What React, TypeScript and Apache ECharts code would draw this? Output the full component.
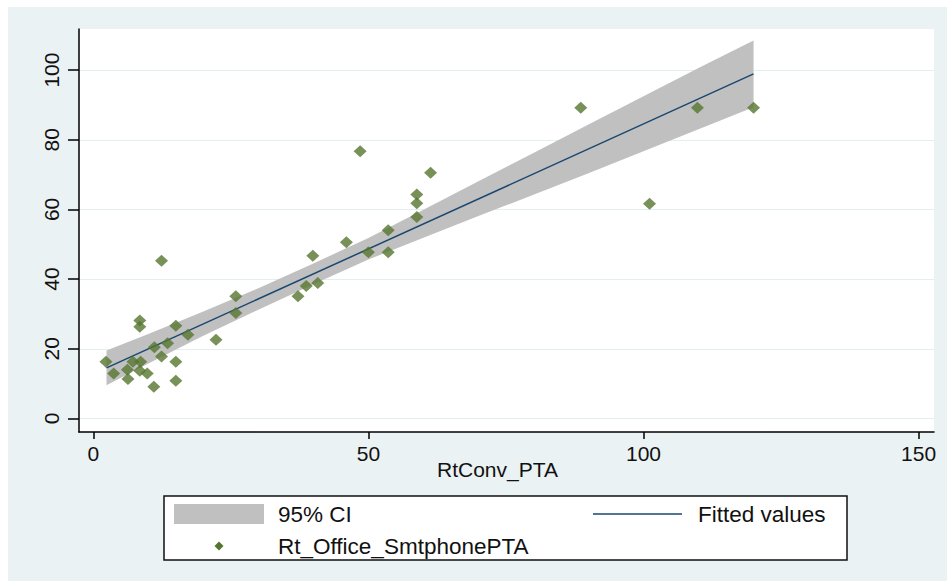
import React, { useEffect, useRef } from "react";
import * as echarts from "echarts";

const xTicks = [0, 50, 100, 150];
const yTicks = [0, 20, 40, 60, 80, 100];

const scatterX = [2.3, 3.7, 6.2, 6.3, 7.2, 8.6, 8.45, 9.8, 11.0, 11.1, 12.4, 13.5, 15.0, 15.0, 15.0, 17.2, 8.45, 8.45, 12.4, 22.3, 25.9, 25.9, 37.2, 38.7, 40.8, 39.9, 46.0, 48.5, 50.0, 53.6, 53.6, 58.8, 58.8, 58.8, 61.3, 88.6, 101.1, 109.8, 120.0];
const scatterY = [16.3, 12.9, 14.0, 11.3, 16.3, 16.3, 13.7, 12.9, 9.1, 20.4, 17.8, 21.6, 26.6, 16.3, 10.8, 24.0, 28.1, 26.3, 45.3, 22.6, 35.1, 30.3, 35.1, 38.0, 38.9, 46.7, 50.6, 76.7, 47.7, 47.7, 54.0, 57.8, 61.8, 64.3, 70.5, 89.2, 61.6, 89.2, 89.2];

const fitX = [2.4, 120];
const fitY = [14.5, 98.9];

const ciX = [2.4, 10, 20, 30, 40, 50, 60, 70, 80, 90, 100, 110, 120];
const ciUpper = [19.5, 24.2, 30.7, 37.4, 44.5, 51.8, 59.9, 68.1, 76.2, 84.4, 92.5, 100.6, 108.5];
const ciLower = [9.5, 15.8, 23.7, 31.2, 38.5, 45.6, 51.9, 58.1, 64.2, 70.4, 76.7, 83.0, 89.3];

const FONT = "Liberation Sans";

export default function App() {
  const ref = useRef<HTMLDivElement>(null);
  useEffect(() => {
    const chart = echarts.init(ref.current!, null, { renderer: "svg" });
    chart.setOption({
      animation: false,
      backgroundColor: "#eaf2f3",
      textStyle: { fontFamily: FONT },
      grid: { left: 71, top: 22, right: 13, bottom: 149, show: true, backgroundColor: "#ffffff", borderWidth: 0 },
      xAxis: {
        type: "value",
        min: -2.6,
        max: 152.8,
        axisLine: { show: true, onZero: false, lineStyle: { color: "#000", width: 1.5 } },
        axisTick: { show: true, length: 7, customValues: xTicks, lineStyle: { color: "#000", width: 1.5 } },
        axisLabel: { customValues: xTicks, color: "#111", fontSize: 21, margin: 11, fontFamily: FONT },
        splitLine: { show: false },
      },
      yAxis: {
        type: "value",
        min: -3.9,
        max: 111.8,
        axisLine: { show: true, onZero: false, lineStyle: { color: "#000", width: 1.5 } },
        axisTick: { show: true, length: 11, customValues: yTicks, lineStyle: { color: "#000", width: 1.5 } },
        axisLabel: { customValues: yTicks, color: "#111", fontSize: 21, margin: 17, rotate: 90, fontFamily: FONT },
        splitLine: { show: true, lineStyle: { color: "#e4eef1", width: 1.2 } },
      },
      series: [
        {
          type: "custom",
          name: "95% CI",
          data: ciX.map((x, i) => [x, ciLower[i], ciUpper[i]]),
          renderItem: (params: any, api: any) => {
            if (params.dataIndex !== 0) return null;
            const pts: number[][] = [];
            for (let i = 0; i < ciX.length; i++) pts.push(api.coord([ciX[i], ciUpper[i]]));
            for (let i = ciX.length - 1; i >= 0; i--) pts.push(api.coord([ciX[i], ciLower[i]]));
            return { type: "polygon", shape: { points: pts }, style: { fill: "#c0c0c0" } };
          },
          z: 2,
        },
        {
          type: "line",
          name: "Fitted values",
          data: fitX.map((x, i) => [x, fitY[i]]),
          symbol: "none",
          lineStyle: { color: "#1a476f", width: 1.5 },
          z: 3,
        },
        {
          type: "scatter",
          name: "Rt_Office_SmtphonePTA",
          data: scatterX.map((x, i) => [x, scatterY[i]]),
          symbol: "diamond",
          symbolSize: [13, 12],
          itemStyle: { color: "#55752f" },
          z: 4,
        },
      ],
      graphic: [
        { type: "text", left: 489 - 60, top: 452, style: { text: "RtConv_PTA", fill: "#111", font: `21px "${FONT}"` } },
        { type: "rect", shape: { x: 156, y: 489, width: 683, height: 64 }, style: { fill: "#ffffff", stroke: "#111", lineWidth: 1.5 } },
        { type: "rect", shape: { x: 166, y: 497, width: 90, height: 20 }, style: { fill: "#c0c0c0" } },
        { type: "text", x: 270, y: 507, style: { text: "95% CI", fill: "#111", font: `22.5px "${FONT}"`, verticalAlign: "middle" } },
        { type: "line", shape: { x1: 585, y1: 507, x2: 674, y2: 507 }, style: { stroke: "#1a476f", lineWidth: 1.5 } },
        { type: "text", x: 690, y: 507, style: { text: "Fitted values", fill: "#111", font: `22.5px "${FONT}"`, verticalAlign: "middle" } },
        { type: "polygon", shape: { points: [[211, 534.5], [215.5, 539], [211, 543.5], [206.5, 539]] }, style: { fill: "#55752f" } },
        { type: "text", x: 270, y: 539, style: { text: "Rt_Office_SmtphonePTA", fill: "#111", font: `22.5px "${FONT}"`, verticalAlign: "middle" } },
      ],
    });
    return () => chart.dispose();
  }, []);
  return (
    <div
      ref={ref}
      style={{ position: "absolute", left: 8, top: 7, width: 939, height: 574, background: "#eaf2f3" }}
    />
  );
}
